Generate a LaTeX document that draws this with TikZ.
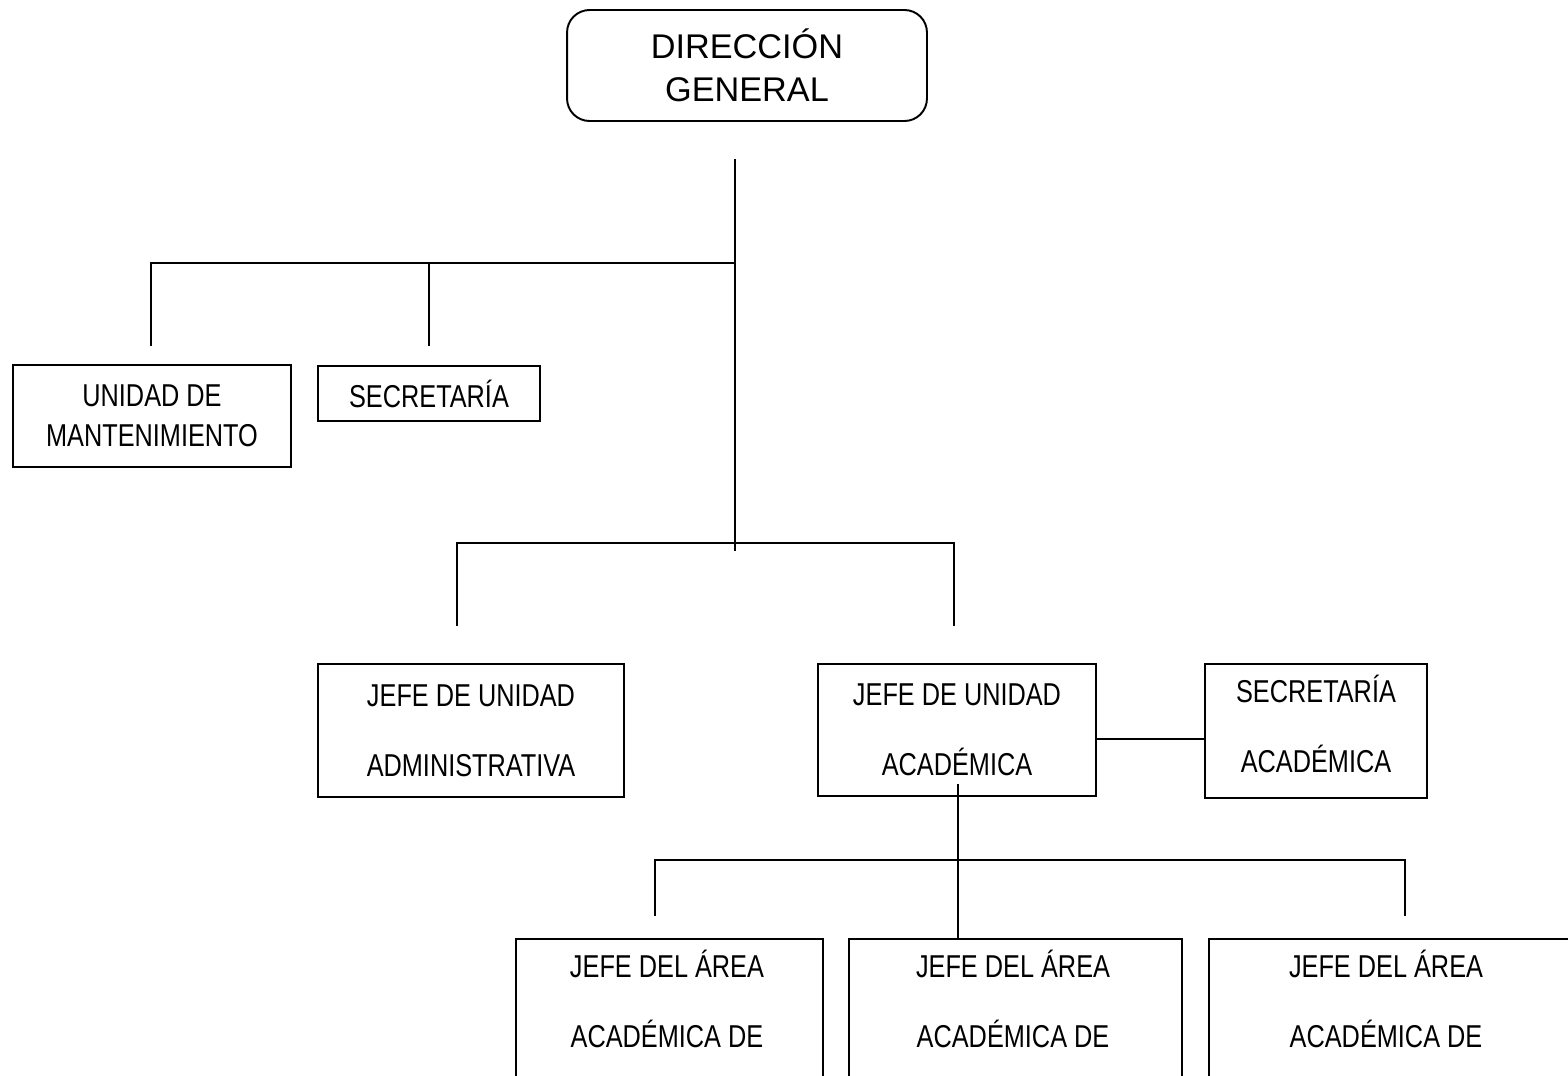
\documentclass[tikz,border=0pt]{standalone}
\usepackage{fontspec}
\setmainfont{Liberation Sans}
\newfontfamily\narrowfont{Liberation Sans}[FakeStretch=0.8]
\usetikzlibrary{positioning}

\begin{document}
\begin{tikzpicture}[x=0.02cm,y=-0.02cm,line width=1.1pt,line cap=rect,
    head box/.style={draw,rounded corners=0.45cm,align=center,inner sep=0pt,font={\fontsize{19.5}{24.5}\selectfont}},
    unit box/.style={draw,align=center,inner sep=0pt,font={\narrowfont\fontsize{18}{40}\selectfont}},
    area box/.style={draw,inner sep=0pt,anchor=north,minimum height=5cm},
    area text/.style={align=center,inner sep=0pt,anchor=north,font={\narrowfont\fontsize{18}{40}\selectfont}}]

    \useasboundingbox (0,0) rectangle (1568,1075);
    \clip (0,0) rectangle (1568,1075);

    \node[head box, minimum width=7.2cm, minimum height=2.22cm] (dir) at (747,65.5) {DIRECCIÓN\\GENERAL};

    \node[unit box, minimum width=5.56cm, minimum height=2.04cm, font={\narrowfont\fontsize{18}{22.8}\selectfont}] (mant) at (152,416) {UNIDAD DE\\MANTENIMIENTO};
    \node[unit box, minimum width=4.44cm, minimum height=1.1cm] (sec) at (429,393.5) {SECRETARÍA};

    \node[unit box, minimum width=6.12cm, minimum height=2.66cm] (adm) at (471,730.5) {JEFE DE UNIDAD\\ADMINISTRATIVA};
    \node[unit box, minimum width=5.56cm, minimum height=2.64cm] (acad) at (957,730) {JEFE DE UNIDAD\\ACADÉMICA};
    \node[unit box, minimum width=4.44cm, minimum height=2.68cm] (secac) at (1316,731) {SECRETARÍA\\ACADÉMICA\rule[-0.28cm]{0pt}{0.28cm}};

    \node[area box, minimum width=6.14cm] (a1) at (669.5,938) {};
    \node[area box, minimum width=6.66cm] (a2) at (1015.5,938) {};
    \node[area box, minimum width=7.42cm] (a3) at (1394.5,938) {};
    \node[area text] (a1t) at (667,949) {JEFE DEL ÁREA\\ACADÉMICA DE};
    \node[area text] (a2t) at (1013,949) {JEFE DEL ÁREA\\ACADÉMICA DE};
    \node[area text] (a3t) at (1386,949) {JEFE DEL ÁREA\\ACADÉMICA DE};

    \coordinate (top) at (735,160);
    \coordinate (mid) at (735,263);
    \coordinate (low) at (735,550);
    \coordinate (m0) at (151,263);
    \coordinate (m1) at (151,345);
    \coordinate (s0) at (429,263);
    \coordinate (s1) at (429,345);
    \coordinate (b0) at (457,543);
    \coordinate (b1) at (457,625);
    \coordinate (c0) at (954,543);
    \coordinate (c1) at (954,625);
    \coordinate (ac) at (958,785);
    \coordinate (d0) at (655,860);
    \coordinate (d1) at (655,915);
    \coordinate (e0) at (1405,860);
    \coordinate (e1) at (1405,915);

    \path
        (top) edge (low)
        (m0) edge (mid)
        (m0) edge (m1)
        (s0) edge (s1)
        (b0) edge (c0)
        (b0) edge (b1)
        (c0) edge (c1)
        ([yshift=-0.18cm]acad.east) edge ([yshift=-0.18cm]acad.east -| secac.west)
        (ac) edge (ac |- a2.north)
        (d0) edge (e0)
        (d0) edge (d1)
        (e0) edge (e1)
        ;
\end{tikzpicture}
\end{document}
